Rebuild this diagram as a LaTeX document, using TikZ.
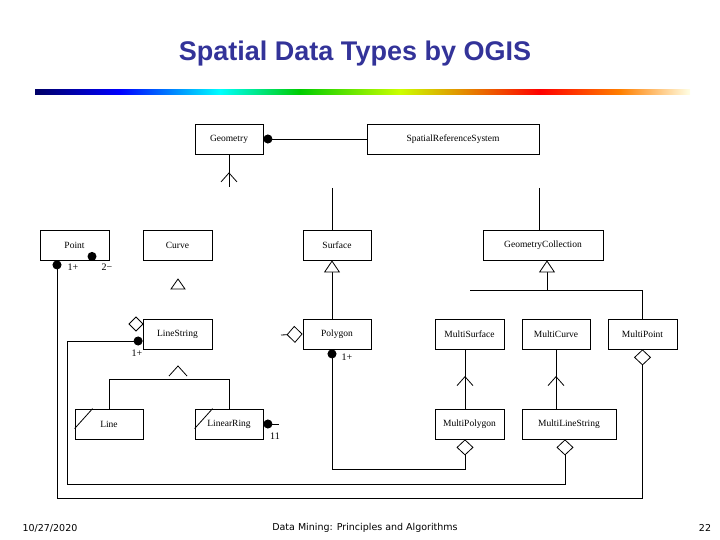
\documentclass[tikz,border=0pt]{standalone}
\usepackage{fontspec}
\setmainfont{Liberation Serif}
\newfontfamily\titlefont{Liberation Sans}
\newfontfamily\footfont{DejaVu Sans}
\usetikzlibrary{arrows.meta,decorations.markings}
\definecolor{titleBlue}{HTML}{333399}
\tikzset{
  cls/.style={draw,minimum height=30pt,inner sep=0pt,font=\fontsize{9.5}{11}\selectfont},
  mult/.style={font=\fontsize{10}{12}\selectfont,inner sep=1pt},
  dot/.style={{Circle[length=9pt]}-},
  agg/.style={-{Diamond[length=16pt,width=17pt,fill=white]}},
  vmark/.style={postaction={decorate},decoration={markings,
    mark=at position #1 with {\arrow{Straight Barb[length=9pt,width=16pt]}}}},
  gen/.style={-{Triangle[length=12pt,width=16pt,fill=white]}},
}
\begin{document}
\begin{tikzpicture}[x=1pt,y=-1pt,line width=0.8pt]
\useasboundingbox (0,0) rectangle (720,540);
% title and bar
\node[font=\titlefont\bfseries\fontsize{27}{32}\selectfont,text=titleBlue] (title) at (355,54) {Spatial Data Types by OGIS};
\foreach \a/\b/\ca/\cb in {35/120/blue!40!black/blue,120/220/blue/cyan,220/300/cyan/green!80!black,
  300/400/green!80!black/yellow!80!green,400/540/yellow!80!green/red,540/620/red/orange,
  620/690/orange/yellow!10}
  \shade[left color=\ca,right color=\cb,draw=none] (\a,90) rectangle (\b,95);
% classes
\node[cls,minimum width=68pt] (Geometry) at (229,139) {Geometry};
\node[cls,minimum width=172pt] (SRS) at (453,139) {SpatialReferenceSystem};
\node[cls,minimum width=69pt] (Point) at (74.5,245) {Point};
\node[cls,minimum width=69pt] (Curve) at (177.5,245) {Curve};
\node[cls,minimum width=68pt] (Surface) at (337,245) {Surface};
\node[cls,minimum width=120pt] (GC) at (543,245) {GeometryCollection};
\node[cls,minimum width=69pt] (LineString) at (177.5,334) {LineString};
\node[cls,minimum width=68pt] (Polygon) at (337,334) {Polygon};
\node[cls,minimum width=69pt] (MSurface) at (469.5,334) {MultiSurface};
\node[cls,minimum width=68pt] (MCurve) at (556,334) {MultiCurve};
\node[cls,minimum width=69pt] (MPoint) at (642.5,334) {MultiPoint};
\node[cls,minimum width=68pt] (Line) at (109,424) {Line};
\node[cls,minimum width=68pt] (LRing) at (229,424) {LinearRing};
\node[cls,minimum width=69pt] (MPolygon) at (469.5,424) {MultiPolygon};
\node[cls,minimum width=94pt] (MLString) at (569,424) {MultiLineString};
% free ends
\coordinate (gStub) at (229,187);
\coordinate (sStub) at (332,188);
\coordinate (cStub) at (539,188);
\coordinate (gcBar) at (547,290);
% connectors
\draw[dot] (Geometry.east) -- (SRS.west);
\draw[vmark=0.45] (gStub) -- (Geometry.south);
\draw (sStub) -- ([xshift=-5]Surface.north);
\draw (cStub) -- ([xshift=-4]GC.north);
\draw[gen] ([xshift=-5]Polygon.north) -- ([xshift=-5]Surface.south);
\draw[gen] (gcBar) -- ([xshift=4]GC.south);
\draw (470,290) -| (MPoint.north);
\draw[vmark=0.55] ([xshift=-4.5]MPolygon.north) -- ([xshift=-4.5]MSurface.north |- MSurface.south);
\draw[vmark=0.55] ([xshift=-13]MLString.north) -- ([xshift=0]MCurve.south);
\draw (Line.north) |- (229,379) -- (LRing.north);
\draw (178,366) ++(-9,10) -- (178,366) -- ++(9,10);
\draw (171,289) -- (178,279) -- (185,289) -- cycle;
\draw (136,317) -- (143,324) -- (136,331) -- (129,324) -- cycle;
\draw[agg] (281,335) -- (Polygon.west);
\draw[dot] ([yshift=-7]LineString.west) -- (67,341) -- (67,484) -| ([xshift=-4]MLString.south);
\draw[agg] (565,484) -- ([xshift=-4]MLString.south);
\draw[dot] ([xshift=-5]Polygon.south) -- (332,469) -| ([xshift=-4.5]MPolygon.south);
\draw[agg] (465,469) -- ([xshift=-4.5]MPolygon.south);
\draw[dot] ([xshift=-17.5]Point.south) -- (57,498) -| (MPoint.south);
\draw[agg] (642.5,498) -- (MPoint.south);
\fill ([xshift=17.5,yshift=4]Point.south) circle (4.5);
\draw[dot] (LRing.east) -- (279,424);
\draw ([yshift=-20]Line.north west) -- ([xshift=18]Line.north west);
\draw ([yshift=-20]LRing.north west) -- ([xshift=18]LRing.north west);
% multiplicities
\node[mult] at (73,267) {1+};
\node[mult] at (107,267) {2−};
\node[mult] at (137,353) {1+};
\node[mult] at (347,357) {1+};
\node[mult] at (275,436) {11};
% footer
\node[font=\footfont\fontsize{9.5}{11}\selectfont] (date) at (50,528) {10/27/2020};
\node[font=\footfont\fontsize{9.5}{11}\selectfont] (foot) at (365,528) {Data Mining: Principles and Algorithms};
\node[font=\footfont\fontsize{9.5}{11}\selectfont] (page) at (705,528) {22};
\end{tikzpicture}
\end{document}
